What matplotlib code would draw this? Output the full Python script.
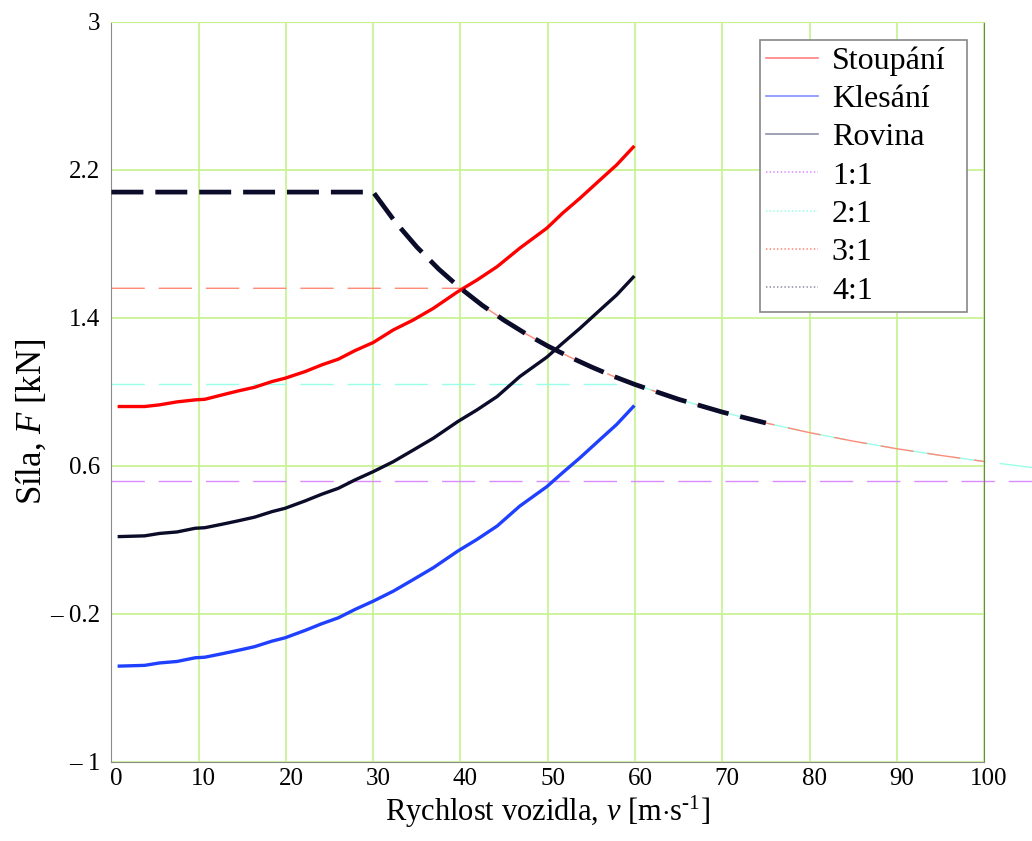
import matplotlib as mpl
mpl.use('Agg')
import matplotlib.pyplot as plt
import matplotlib.transforms as mtransforms
from matplotlib.lines import Line2D

plt.rcParams['font.family'] = ['Liberation Serif', 'DejaVu Serif']
plt.rcParams['mathtext.fontset'] = 'custom'
plt.rcParams['mathtext.rm'] = 'Liberation Serif'
plt.rcParams['mathtext.it'] = 'Liberation Serif:italic'
plt.rcParams['lines.scale_dashes'] = False

# jizdni odpor [kN] pro stoupani / klesani / rovinu
v = [0.9, 3.8, 5.5, 7.5, 9.6, 10.7, 12.7, 14.5, 16.4, 18.4, 19.9, 22.2, 24.1, 26.0,
     27.9, 30.0, 32.3, 34.6, 36.9, 39.7, 41.9, 44.2, 46.8, 49.9, 51.7, 53.7, 56.0,
     57.9, 59.8]
stoupani = [0.921, 0.921, 0.930, 0.946, 0.957, 0.960, 0.984, 1.005, 1.025, 1.056,
            1.074, 1.110, 1.146, 1.177, 1.223, 1.267, 1.335, 1.389, 1.452, 1.542,
            1.605, 1.677, 1.777, 1.885, 1.966, 2.047, 2.146, 2.227, 2.323]
rovina = [0.218, 0.222, 0.235, 0.243, 0.263, 0.266, 0.285, 0.303, 0.323, 0.353,
          0.371, 0.411, 0.447, 0.479, 0.524, 0.569, 0.623, 0.686, 0.750, 0.840,
          0.903, 0.975, 1.083, 1.188, 1.263, 1.344, 1.443, 1.524, 1.620]
klesani = [-0.482, -0.478, -0.465, -0.457, -0.437, -0.434, -0.415, -0.397, -0.377,
           -0.347, -0.329, -0.289, -0.253, -0.221, -0.176, -0.131, -0.077, -0.014,
           0.050, 0.140, 0.203, 0.275, 0.383, 0.488, 0.563, 0.644, 0.743, 0.824,
           0.920]

# tazna sila na kolech pro jednotlive prevody
prevody = ['1:1', '2:1', '3:1', '4:1']
f_max = [0.52, 1.04, 1.56, 2.08]
v_max = [300, 150, 100, 75]
# hyperbola konstantniho vykonu (62.4 kW)
v_hyp = [30, 32.5, 35, 37.5, 40, 42.5, 45, 47.5, 50, 52.5, 55, 57.5, 60, 65, 70,
         75, 80, 85, 90, 95, 100, 105, 110]
f_hyp = [2.080, 1.920, 1.783, 1.664, 1.560, 1.468, 1.387, 1.314, 1.248, 1.189,
         1.135, 1.085, 1.040, 0.960, 0.891, 0.832, 0.780, 0.734, 0.693, 0.657,
         0.624, 0.594, 0.567]

x_ticks = [0, 10, 20, 30, 40, 50, 60, 70, 80, 90, 100]
y_ticks = [-1, -0.2, 0.6, 1.4, 2.2, 3]
y_ticklabels = ['\u2013 1', '\u2013 0.2', '0.6', '1.4', '2.2', '3']

fig = plt.figure(figsize=(10.32, 8.41), dpi=100)
ax = fig.add_axes([0.108, 0.094, 0.8455, 0.88])

gear_styles = {
    '1:1': dict(color='#d98cff', lw=1.0, dashes=(24, 10)),
    '2:1': dict(color='#99ffe8', lw=1.0, dashes=(24, 10)),
    '3:1': dict(color='#ff8a78', lw=1.0, dashes=(24, 10)),
    '4:1': dict(color='#0b0b2a', lw=3.4, dashes=(23, 8.6)),
}

ax.plot(v, stoupani, color='#ff0000', lw=2.4, zorder=3)
ax.plot(v, klesani, color='#2040ff', lw=2.4, zorder=3)
ax.plot(v, rovina, color='#0b0b2a', lw=2.4, zorder=3)

for name, fm, vm in zip(prevody, f_max, v_max):
    xs = [0]
    ys = [fm]
    for vh, fh in zip(v_hyp, f_hyp):
        if fh <= fm and vh <= vm:
            xs.append(vh)
            ys.append(fh)
    if len(xs) == 1:
        xs.append(min(vm, v_hyp[-1]))
        ys.append(fm)
    ax.plot(xs, ys, clip_on=False, zorder=4 if name == '4:1' else 2,
            solid_capstyle='butt', dash_capstyle='butt', **gear_styles[name])

ax.set_xlim(0, 100)
ax.set_ylim(-1, 3)
ax.set_xticks(x_ticks)
ax.set_yticks(y_ticks)
ax.set_yticklabels(y_ticklabels)
ax.tick_params(length=0, labelsize=18)
ax.tick_params(axis='x', pad=4)
ax.tick_params(axis='y', pad=8)
shift = mtransforms.ScaledTranslation(5 / 100, 0, fig.dpi_scale_trans)
for lbl in ax.get_xticklabels():
    lbl.set_transform(lbl.get_transform() + shift)
ax.grid(True, color='#c6f28c', lw=1.2)
ax.set_axisbelow(True)
for side in ['left', 'bottom']:
    ax.spines[side].set_color('#8c8c8c')
ax.spines['right'].set_color('#6a8a4a')
ax.spines['top'].set_color('#c6f28c')

ax.set_xlabel('Rychlost vozidla, $v$ [m$\\cdot$s$^{\\rm \u20101}$]', fontsize=22)
ax.xaxis.set_label_coords(0.5, -0.043)
ax.set_ylabel('Síla, $F$ [kN]', fontsize=25)
ax.yaxis.set_label_coords(-0.072, 0.46)

handles = [
    Line2D([], [], color='#ff8080', lw=1.2),
    Line2D([], [], color='#8090ff', lw=1.2),
    Line2D([], [], color='#9090a8', lw=1.2),
    Line2D([], [], color='#d98cff', lw=1.2, ls=':'),
    Line2D([], [], color='#99ffe8', lw=1.2, ls=':'),
    Line2D([], [], color='#ff8a78', lw=1.2, ls=':'),
    Line2D([], [], color='#9090a8', lw=1.2, ls=':'),
]
labels = ['Stoupání', 'Klesání', 'Rovina'] + prevody
leg = ax.legend(handles, labels, loc='upper left',
                bbox_to_anchor=(0.7433, 0.5, 0.2373, 0.4757), mode='expand',
                fontsize=23, fancybox=False, framealpha=1, edgecolor='#888888',
                handlelength=1.6, labelspacing=0.28, borderpad=0.2,
                handletextpad=0.45, borderaxespad=0)
leg.get_frame().set_linewidth(1.2)

fig.savefig('out.png', dpi=100)
